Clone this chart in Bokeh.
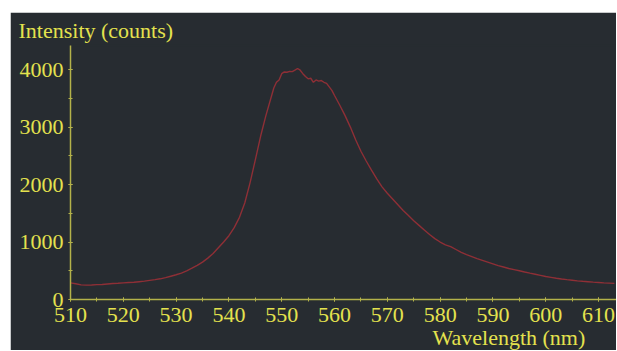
from bokeh.plotting import figure
from bokeh.models import Range1d, SingleIntervalTicker, Title, Spacer
from bokeh.layouts import column, row
from bokeh.embed import file_html
from bokeh.resources import INLINE

wavelength = [510, 511, 512, 513, 514, 515, 516, 517, 518, 519,
              520, 521, 522, 523, 524, 525, 526, 527, 528, 529,
              530, 531, 532, 533, 534, 535, 536, 537, 538, 539,
              540, 541, 542, 543, 544, 545, 546, 547, 548, 548.5,
              549, 549.5, 550, 550.5, 551, 551.5, 552, 552.5, 553, 553.5,
              554, 554.5, 555, 555.5, 556, 556.5, 557, 557.5, 558, 558.5,
              559, 559.5, 560, 561, 562, 563, 564, 565, 566, 567,
              568, 569, 570, 571, 572, 573, 574, 575, 576, 577,
              578, 579, 580, 581, 582, 583, 584, 585, 586, 587,
              588, 589, 590, 591, 592, 593, 594, 595, 596, 597,
              598, 599, 600, 601, 602, 603, 604, 605, 606, 607,
              608, 609, 610, 611, 612, 613]
intensity = [290, 275, 255, 250, 252, 258, 262, 270, 278, 283,
             290, 295, 300, 310, 320, 333, 345, 360, 380, 405,
             430, 460, 500, 545, 595, 650, 720, 800, 900, 1000,
             1110, 1250, 1430, 1680, 2030, 2430, 2840, 3200, 3520, 3680,
             3780, 3820, 3930, 3960, 3955, 3970, 3965, 3990, 4020, 3990,
             3930, 3880, 3840, 3850, 3780, 3820, 3800, 3810, 3780, 3760,
             3700, 3640, 3550, 3380, 3200, 3000, 2780, 2580, 2410, 2250,
             2100, 1960, 1850, 1750, 1650, 1550, 1460, 1370, 1290, 1210,
             1130, 1060, 1000, 950, 920, 870, 820, 780, 745, 710,
             680, 650, 620, 590, 565, 540, 520, 500, 478, 458,
             440, 420, 400, 385, 370, 357, 345, 335, 325, 317,
             310, 303, 297, 290, 285, 280]

x_title = "Wavelength (nm)"
y_title = "Intensity (counts)"

BG = "#272c31"
YEL = "#e4e24e"
AXC = "#b4b24a"
CURVE = "#8e2f36"
FONT = "Liberation Serif"

p = figure(width=606, height=338, output_backend="svg", toolbar_location=None,
           x_range=Range1d(510, 613.4), y_range=Range1d(0, 4420),
           min_border_left=60, min_border_right=0, min_border_top=33,
           min_border_bottom=51)
p.background_fill_color = BG
p.border_fill_color = BG
p.outline_line_color = BG
p.outline_line_width = 2
p.grid.visible = False

p.line(wavelength, intensity, line_color=CURVE, line_width=1.4)

for ax, interval in ((p.xaxis[0], 10), (p.yaxis[0], 1000)):
    ax.ticker = SingleIntervalTicker(interval=interval, num_minor_ticks=2)
    ax.axis_line_color = AXC
    ax.axis_line_width = 1.5
    ax.major_tick_line_color = AXC
    ax.minor_tick_line_color = AXC
    ax.major_tick_in = 2
    ax.major_tick_out = 2
    ax.minor_tick_in = 2
    ax.minor_tick_out = 2
    ax.major_label_text_color = YEL
    ax.major_label_text_font = FONT
    ax.major_label_text_font_size = "22px"

p.xaxis[0].major_label_standoff = 6
p.yaxis[0].major_label_standoff = 5

top = Title(text=y_title, align="left", offset=-52,
            text_color=YEL, text_font=FONT, text_font_size="22px",
            text_font_style="normal", standoff=6)
p.add_layout(top, "above")

bottom = Title(text=x_title, align="left", offset=362,
               text_color=YEL, text_font=FONT, text_font_size="22px",
               text_font_style="normal", standoff=-4)
p.add_layout(bottom, "below")

layout = column(Spacer(height=12), row(Spacer(width=10), p))

open("out.html", "w").write(file_html(layout, INLINE))
